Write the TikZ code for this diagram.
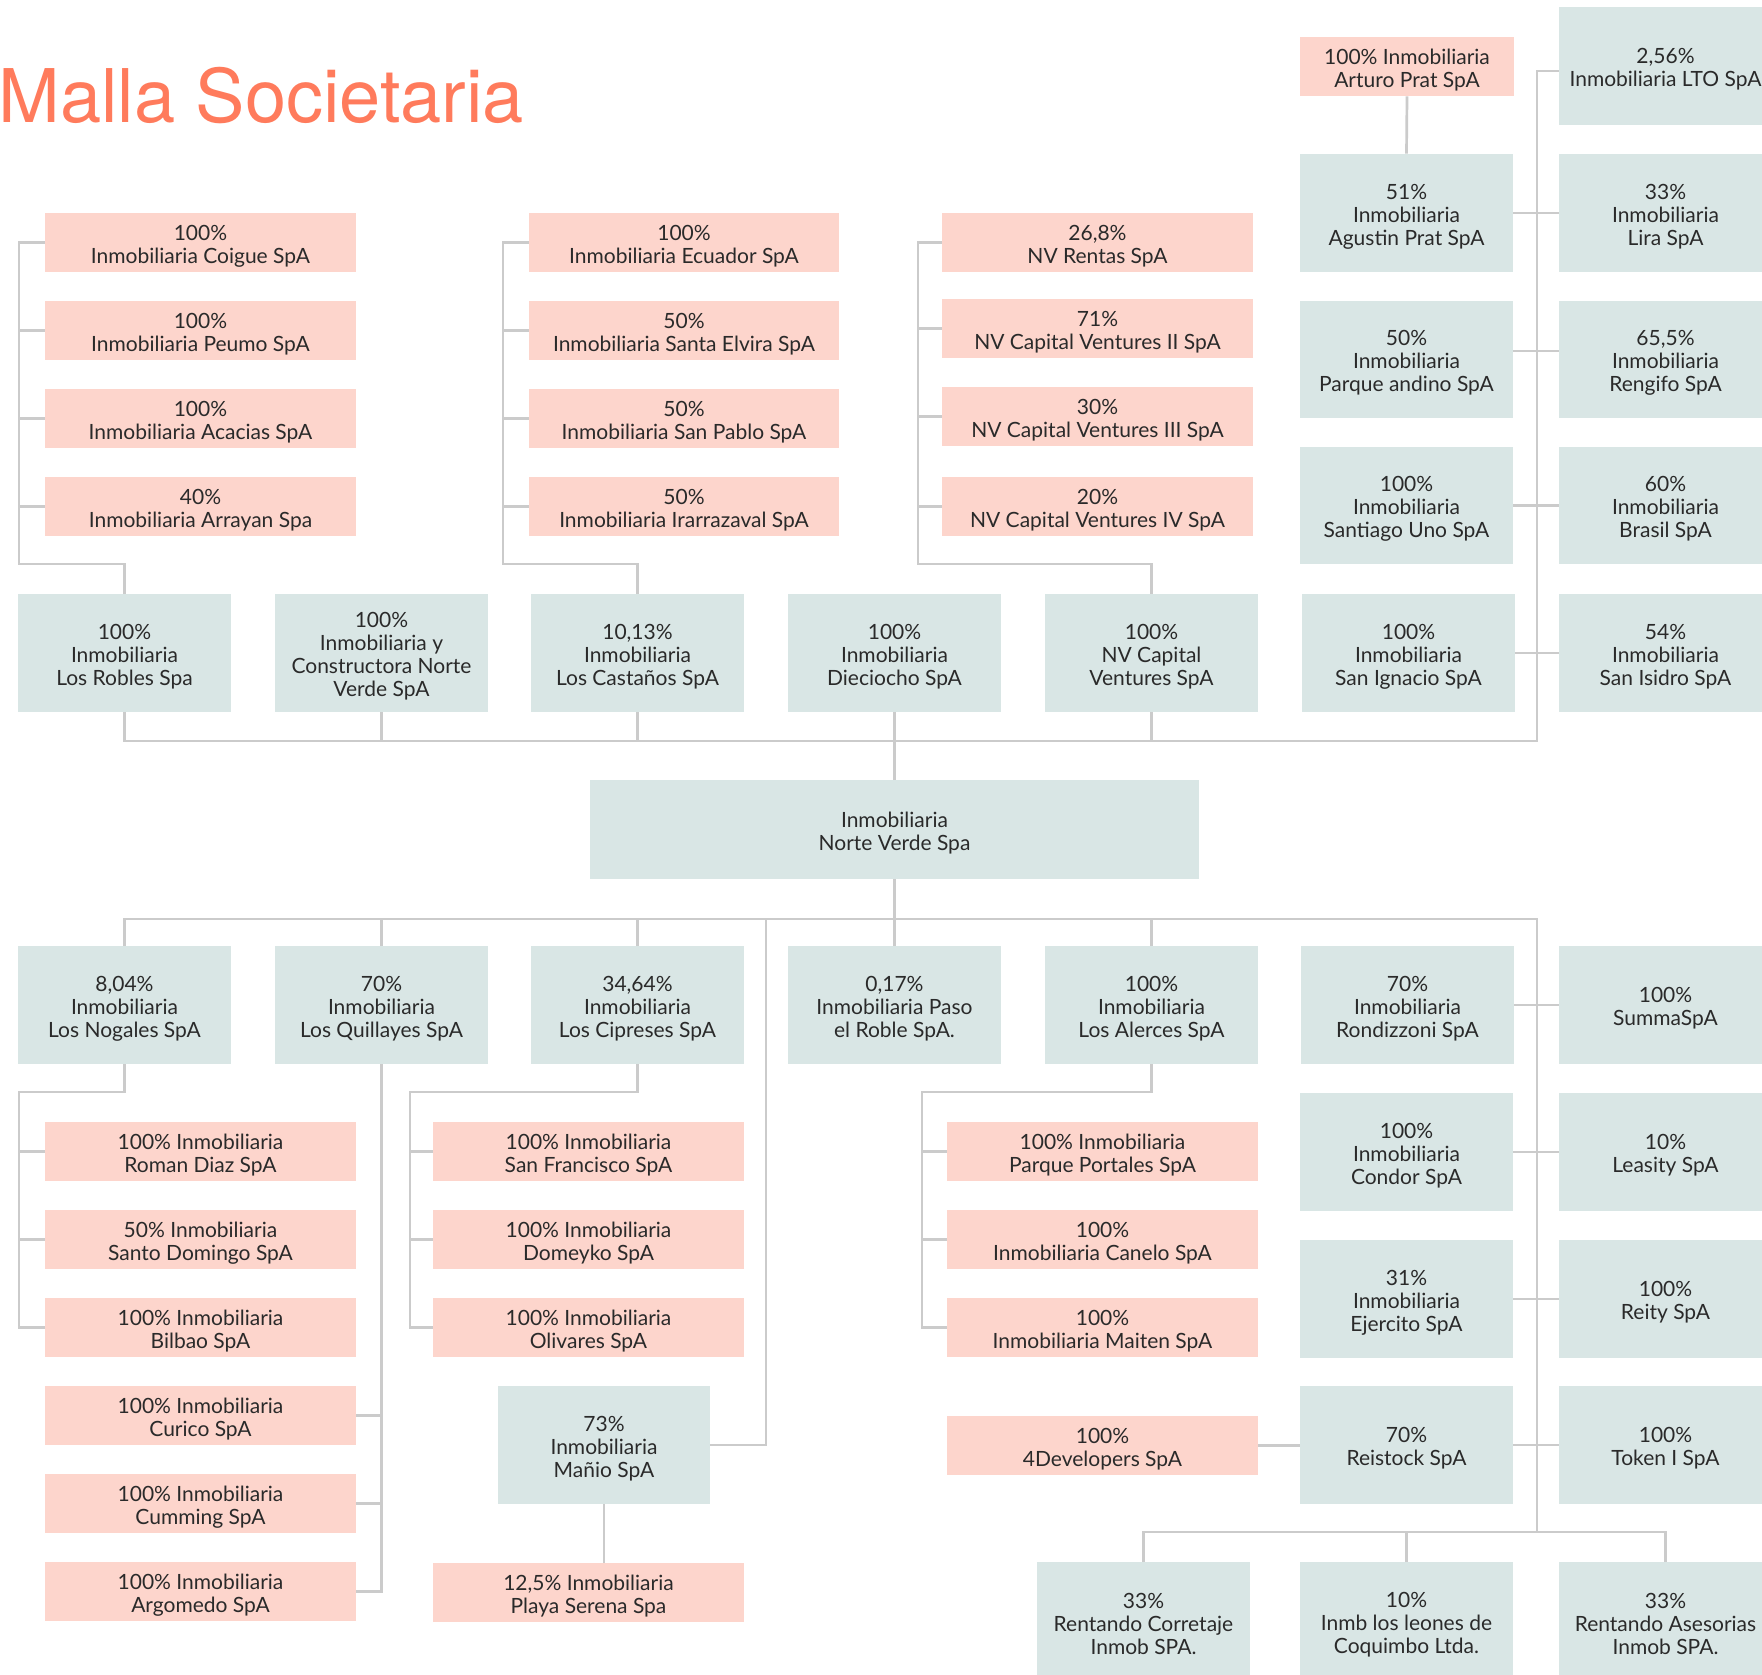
\documentclass[tikz,border=0pt]{standalone}
\usepackage{fontspec}
\setmainfont{Lato}
\newfontfamily\titlefont{TeX Gyre Heros}
\definecolor{pinkbox}{HTML}{FDD5CC}
\definecolor{tealbox}{HTML}{D9E6E5}
\definecolor{linec}{HTML}{CBCBCB}
\definecolor{titlec}{HTML}{FF7B5C}
\definecolor{txt}{HTML}{2A2A2A}
\tikzset{
  boxbase/.style={inner sep=0pt},
  pinkb/.style={boxbase, fill=pinkbox},
  tealb/.style={boxbase, fill=tealbox},
  boxtext/.style={inner sep=0pt, align=center, text=txt, font=\fontsize{10.5}{11.5}\selectfont},
  conn/.style={draw=linec, line width=1.35pt},
}
\newcommand\bx[7]{%
  \node[#6, minimum width={(#4-#2)*0.5pt}, minimum height={(#5-#3)*0.5pt}] (#1) at ({(#2+#4)/2},{(#3+#5)/2}) {};%
  \node[boxtext] (#1-t) at ([yshift=-1.7pt]#1.center) {#7};}
\begin{document}
\begin{tikzpicture}[x=0.5pt,y=-0.5pt]
\useasboundingbox (0,0) rectangle (1762,1675);
\clip (0,0) rectangle (1762,1675);
\fill[white] (0,0) rectangle (1762,1675);

\node[anchor=base west, inner sep=0pt, text=titlec, font=\titlefont\fontsize{37}{40}\selectfont] (title) at (-2,123) {Malla Societaria};

% top pink groups
\bx{coigue}{45}{213}{356}{272}{pinkb}{100\%\\Inmobiliaria Coigue SpA}
\bx{peumo}{45}{301}{356}{360}{pinkb}{100\%\\Inmobiliaria Peumo SpA}
\bx{acacias}{45}{389}{356}{448}{pinkb}{100\%\\Inmobiliaria Acacias SpA}
\bx{arrayan}{45}{477}{356}{536}{pinkb}{40\%\\Inmobiliaria Arrayan Spa}
\bx{ecuador}{529}{213}{839}{272}{pinkb}{100\%\\Inmobiliaria Ecuador SpA}
\bx{elvira}{529}{301}{839}{360}{pinkb}{50\%\\Inmobiliaria Santa Elvira SpA}
\bx{sanpablo}{529}{389}{839}{448}{pinkb}{50\%\\Inmobiliaria San Pablo SpA}
\bx{irarrazaval}{529}{477}{839}{536}{pinkb}{50\%\\Inmobiliaria Irarrazaval SpA}
\bx{nvrentas}{942}{213}{1253}{272}{pinkb}{26,8\%\\NV Rentas SpA}
\bx{nvii}{942}{299}{1253}{358}{pinkb}{71\%\\NV Capital Ventures II SpA}
\bx{nviii}{942}{387}{1253}{446}{pinkb}{30\%\\NV Capital Ventures III SpA}
\bx{nviv}{942}{477}{1253}{536}{pinkb}{20\%\\NV Capital Ventures IV SpA}
\bx{arturo}{1300}{37}{1514}{96}{pinkb}{100\% Inmobiliaria\\Arturo Prat SpA}

% top right teal
\bx{lto}{1559}{7}{1772}{125}{tealb}{2,56\%\\Inmobiliaria LTO SpA}
\bx{agustin}{1300}{154}{1513}{272}{tealb}{51\%\\Inmobiliaria\\Agustin Prat SpA}
\bx{lira}{1559}{154}{1772}{272}{tealb}{33\%\\Inmobiliaria\\Lira SpA}
\bx{parque}{1300}{301}{1513}{418}{tealb}{50\%\\Inmobiliaria\\Parque andino SpA}
\bx{rengifo}{1559}{301}{1772}{418}{tealb}{65,5\%\\Inmobiliaria\\Rengifo SpA}
\bx{santiago}{1300}{447}{1513}{564}{tealb}{100\%\\Inmobiliaria\\Santiago Uno SpA}
\bx{brasil}{1559}{447}{1772}{564}{tealb}{60\%\\Inmobiliaria\\Brasil SpA}
\bx{sanignacio}{1302}{594}{1515}{712}{tealb}{100\%\\Inmobiliaria\\San Ignacio SpA}
\bx{sanisidro}{1559}{594}{1772}{712}{tealb}{54\%\\Inmobiliaria\\San Isidro SpA}

% top teal row
\bx{robles}{18}{594}{231}{712}{tealb}{100\%\\Inmobiliaria\\Los Robles Spa}
\bx{constructora}{275}{594}{488}{712}{tealb}{100\%\\Inmobiliaria y\\Constructora Norte\\Verde SpA}
\bx{castanos}{531}{594}{744}{712}{tealb}{10,13\%\\Inmobiliaria\\Los Castaños SpA}
\bx{dieciocho}{788}{594}{1001}{712}{tealb}{100\%\\Inmobiliaria\\Dieciocho SpA}
\bx{nvcap}{1045}{594}{1258}{712}{tealb}{100\%\\NV Capital\\Ventures SpA}

\bx{norteverde}{590}{780}{1199}{879}{tealb}{Inmobiliaria\\Norte Verde Spa}

% bottom teal row
\bx{nogales}{18}{946}{231}{1064}{tealb}{8,04\%\\Inmobiliaria\\Los Nogales SpA}
\bx{quillayes}{275}{946}{488}{1064}{tealb}{70\%\\Inmobiliaria\\Los Quillayes SpA}
\bx{cipreses}{531}{946}{744}{1064}{tealb}{34,64\%\\Inmobiliaria\\Los Cipreses SpA}
\bx{pasoroble}{788}{946}{1001}{1064}{tealb}{0,17\%\\Inmobiliaria Paso\\el Roble SpA.}
\bx{alerces}{1045}{946}{1258}{1064}{tealb}{100\%\\Inmobiliaria\\Los Alerces SpA}
\bx{rondizzoni}{1301}{946}{1514}{1064}{tealb}{70\%\\Inmobiliaria\\Rondizzoni SpA}
\bx{summa}{1559}{946}{1772}{1064}{tealb}{100\%\\SummaSpA}
\bx{condor}{1300}{1093}{1513}{1211}{tealb}{100\%\\Inmobiliaria\\Condor SpA}
\bx{leasity}{1559}{1093}{1772}{1211}{tealb}{10\%\\Leasity SpA}
\bx{ejercito}{1300}{1240}{1513}{1358}{tealb}{31\%\\Inmobiliaria\\Ejercito SpA}
\bx{reity}{1559}{1240}{1772}{1358}{tealb}{100\%\\Reity SpA}
\bx{reistock}{1300}{1386}{1513}{1504}{tealb}{70\%\\Reistock SpA}
\bx{token}{1559}{1386}{1772}{1504}{tealb}{100\%\\Token I SpA}
\bx{mano}{498}{1386}{710}{1504}{tealb}{73\%\\Inmobiliaria\\Mañio SpA}
\bx{corretaje}{1037}{1562}{1250}{1680}{tealb}{33\%\\Rentando Corretaje\\Inmob SPA.}
\bx{leones}{1300}{1562}{1513}{1680}{tealb}{10\%\\Inmb los leones de\\Coquimbo Ltda.}
\bx{asesorias}{1559}{1562}{1772}{1680}{tealb}{33\%\\Rentando Asesorias\\Inmob SPA.}

% bottom pink
\bx{roman}{45}{1122}{356}{1181}{pinkb}{100\% Inmobiliaria\\Roman Diaz SpA}
\bx{santodomingo}{45}{1210}{356}{1269}{pinkb}{50\% Inmobiliaria\\Santo Domingo SpA}
\bx{bilbao}{45}{1298}{356}{1357}{pinkb}{100\% Inmobiliaria\\Bilbao SpA}
\bx{curico}{45}{1386}{356}{1445}{pinkb}{100\% Inmobiliaria\\Curico SpA}
\bx{cumming}{45}{1474}{356}{1533}{pinkb}{100\% Inmobiliaria\\Cumming SpA}
\bx{argomedo}{45}{1562}{356}{1621}{pinkb}{100\% Inmobiliaria\\Argomedo SpA}
\bx{sanfrancisco}{433}{1122}{744}{1181}{pinkb}{100\% Inmobiliaria\\San Francisco SpA}
\bx{domeyko}{433}{1210}{744}{1269}{pinkb}{100\% Inmobiliaria\\Domeyko SpA}
\bx{olivares}{433}{1298}{744}{1357}{pinkb}{100\% Inmobiliaria\\Olivares SpA}
\bx{playa}{433}{1563}{744}{1622}{pinkb}{12,5\% Inmobiliaria\\Playa Serena Spa}
\bx{portales}{947}{1122}{1258}{1181}{pinkb}{100\% Inmobiliaria\\Parque Portales SpA}
\bx{canelo}{947}{1210}{1258}{1269}{pinkb}{100\%\\Inmobiliaria Canelo SpA}
\bx{maiten}{947}{1298}{1258}{1357}{pinkb}{100\%\\Inmobiliaria Maiten SpA}
\bx{fourdev}{947}{1416}{1258}{1475}{pinkb}{100\%\\4Developers SpA}

% junction coordinates
\coordinate (jA) at (19,564);
\coordinate (jE) at (503,564);
\coordinate (jV) at (918,564);
\coordinate (busT) at (1537,741);
\coordinate (busB) at (1537,919);
\coordinate (busR) at (1537,1532);
\coordinate (jN) at (19,1092);
\coordinate (jC) at (410,1092);
\coordinate (jL) at (922,1092);
\coordinate (jM) at (766,919);

% top groups
\draw[conn] (coigue.west) -| (jA) -| (robles.north);
\foreach \n in {peumo,acacias,arrayan} \draw[conn] (\n.west) -- (\n.west -| jA);
\draw[conn] (ecuador.west) -| (jE) -| (castanos.north);
\foreach \n in {elvira,sanpablo,irarrazaval} \draw[conn] (\n.west) -- (\n.west -| jE);
\draw[conn] (nvrentas.west) -| (jV) -| (nvcap.north);
\foreach \n in {nvii,nviii,nviv} \draw[conn] (\n.west) -- (\n.west -| jV);

% top bus
\draw[conn] (robles.south) |- (busT) |- ([yshift=-2.5pt]lto.west);
\foreach \n in {constructora,castanos,nvcap} \draw[conn] (\n.south) -- (\n.south |- busT);
\draw[conn] (dieciocho.south) -- (norteverde.north);
\draw[conn] (arturo.south) -- (agustin.north);
\draw[conn] (agustin.east) -- (lira.west);
\draw[conn] ([yshift=4.25pt]parque.east) -- ([yshift=4.25pt]rengifo.west);
\draw[conn] (santiago.east) -- (brasil.west);
\draw[conn] (sanignacio.east) -- (sanisidro.west);

% bottom bus
\draw[conn] (norteverde.south) -- (norteverde.south |- busB);
\draw[conn] (nogales.north) |- (busB) -- (busR);
\foreach \n in {quillayes,cipreses,pasoroble,alerces} \draw[conn] (\n.north) -- (\n.north |- busB);
\draw[conn] (mano.east) -| (jM);
\draw[conn] (corretaje.north) |- (busR);
\draw[conn] (asesorias.north) |- (busR);
\draw[conn] (leones.north) -- (leones.north |- busR);
\draw[conn] (rondizzoni.east) -- (summa.west);
\draw[conn] (condor.east) -- (leasity.west);
\draw[conn] (ejercito.east) -- (reity.west);
\draw[conn] (reistock.east) -- (token.west);
\draw[conn] (fourdev.east) -- (fourdev.east -| reistock.west);

% bottom sub groups
\draw[conn] (nogales.south) |- (jN) |- (bilbao.west);
\foreach \n in {roman,santodomingo} \draw[conn] (\n.west) -- (\n.west -| jN);
\draw[conn] (quillayes.south) |- (argomedo.east);
\foreach \n in {curico,cumming} \draw[conn] (\n.east) -- (\n.east -| quillayes.south);
\draw[conn] (cipreses.south) |- (jC) |- (olivares.west);
\foreach \n in {sanfrancisco,domeyko} \draw[conn] (\n.west) -- (\n.west -| jC);
\draw[conn] (alerces.south) |- (jL) |- (maiten.west);
\foreach \n in {portales,canelo} \draw[conn] (\n.west) -- (\n.west -| jL);
\draw[conn] (mano.south) -- (mano.south |- playa.north);
\end{tikzpicture}
\end{document}
